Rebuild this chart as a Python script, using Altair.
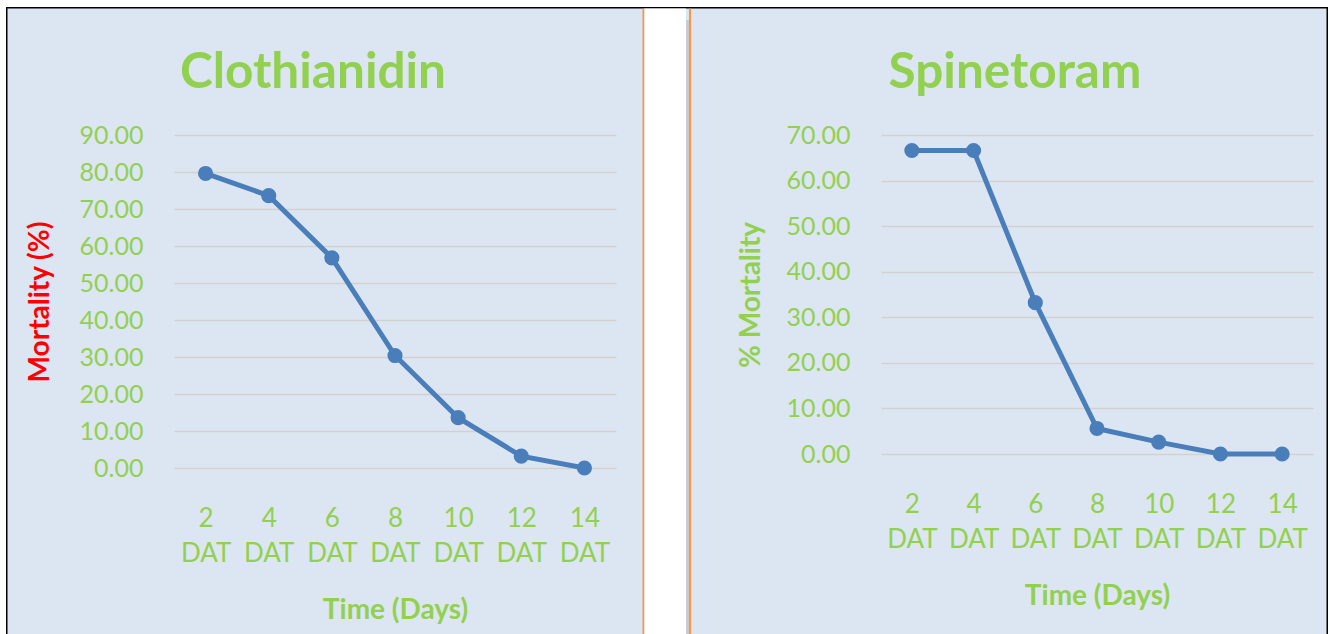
import altair as alt
import pandas as pd

# ---- data ----
days = ["2 DAT", "4 DAT", "6 DAT", "8 DAT", "10 DAT", "12 DAT", "14 DAT"]
clothianidin = [79.6, 73.6, 56.8, 30.4, 13.6, 3.2, 0.0]
spinetoram = [66.6, 66.6, 33.2, 5.6, 2.6, 0.0, 0.0]
clo_ticks = [0, 10, 20, 30, 40, 50, 60, 70, 80, 90]
spi_ticks = [0, 10, 20, 30, 40, 50, 60, 70]

# ---- styles ----
BG = "#dce6f2"
GREEN = "#92d050"
RED = "#ff0000"
BLUE = "#4a7ebb"
GRID = "#d3d1cf"
ORANGE = "#f79646"
FONT = "Lato"

W1, H1 = 442, 333
W2, H2 = 432, 319


def box(x, x2, y, y2, color):
    return alt.Chart(alt.Data(values=[{"k": 1}])).mark_rect(color=color).encode(
        x=alt.value(x), x2=alt.value(x2), y=alt.value(y), y2=alt.value(y2)
    )


def panel(name, values, ticks, ytitle, ycolor, w, h, decor, ytpad):
    df = pd.DataFrame({"day": days, "value": values})
    base = alt.Chart(df).encode(
        x=alt.X(
            "day:O",
            sort=days,
            title="Time (Days)",
            axis=alt.Axis(
                labelAngle=0,
                labelExpr="split(datum.label, ' ')",
                labelFontSize=26,
                labelLineHeight=35,
                labelPadding=37,
                titlePadding=30,
                titleFontSize=28,
                ticks=False,
                domain=False,
                grid=False,
            ),
        ),
        y=alt.Y(
            "value:Q",
            scale=alt.Scale(domain=[0, max(ticks)], nice=False),
            title=ytitle,
            axis=alt.Axis(
                values=ticks,
                format=".2f",
                ticks=False,
                domain=False,
                grid=True,
                gridColor=GRID,
                gridWidth=1.3,
                labelFontSize=25,
                labelPadding=31,
                titlePadding=ytpad,
                titleColor=ycolor,
                titleFontSize=28,
            ),
        ),
    )
    line = base.mark_line(color=BLUE, strokeWidth=5)
    pts = base.mark_circle(color=BLUE, size=230, opacity=1)
    return alt.layer(*decor, line, pts).properties(
        width=w,
        height=h,
        title=alt.TitleParams(
            name,
            font=FONT,
            fontSize=49.5,
            fontWeight="bold",
            color=GREEN,
            anchor="middle",
            dx=-82,
            offset=-98,
        ),
    )


left_decor = [
    box(-174, 515, -135, -128, "white"),
    box(-174, -168, -135, 499, "white"),
    box(-168, -166.5, -128, 499, "black"),
    box(-168, 515, -128, -126.5, "black"),
    box(468.5, 470.5, -126.5, 499, ORANGE),
    box(470.5, 512, -126.5, 499, "white"),
    box(512, 515, -115, 499, "#c8ccd0"),
]
right_decor = [
    box(-192, 449, -135, -128, "white"),
    box(-192, 446, -128, -126.5, "black"),
    box(-192, -190, -126.5, 499, ORANGE),
    box(445.5, 447, -128, 499, "black"),
    box(447, 449, -135, 499, "white"),
]

left = panel("Clothianidin", clothianidin, clo_ticks, "Mortality (%)", RED, W1, H1, left_decor, 25)
right = panel("Spinetoram", spinetoram, spi_ticks, "% Mortality", GREEN, W2, H2, right_decor, 21)

chart = (
    alt.hconcat(left, right, spacing=0)
    .properties(padding=0, background=BG)
    .configure_view(strokeWidth=0)
    .configure_axis(
        labelFont=FONT,
        labelColor=GREEN,
        titleFont=FONT,
        titleFontWeight="bold",
        titleColor=GREEN,
    )
)

chart.save("out.html", embed_options={"renderer": "svg", "actions": False})
